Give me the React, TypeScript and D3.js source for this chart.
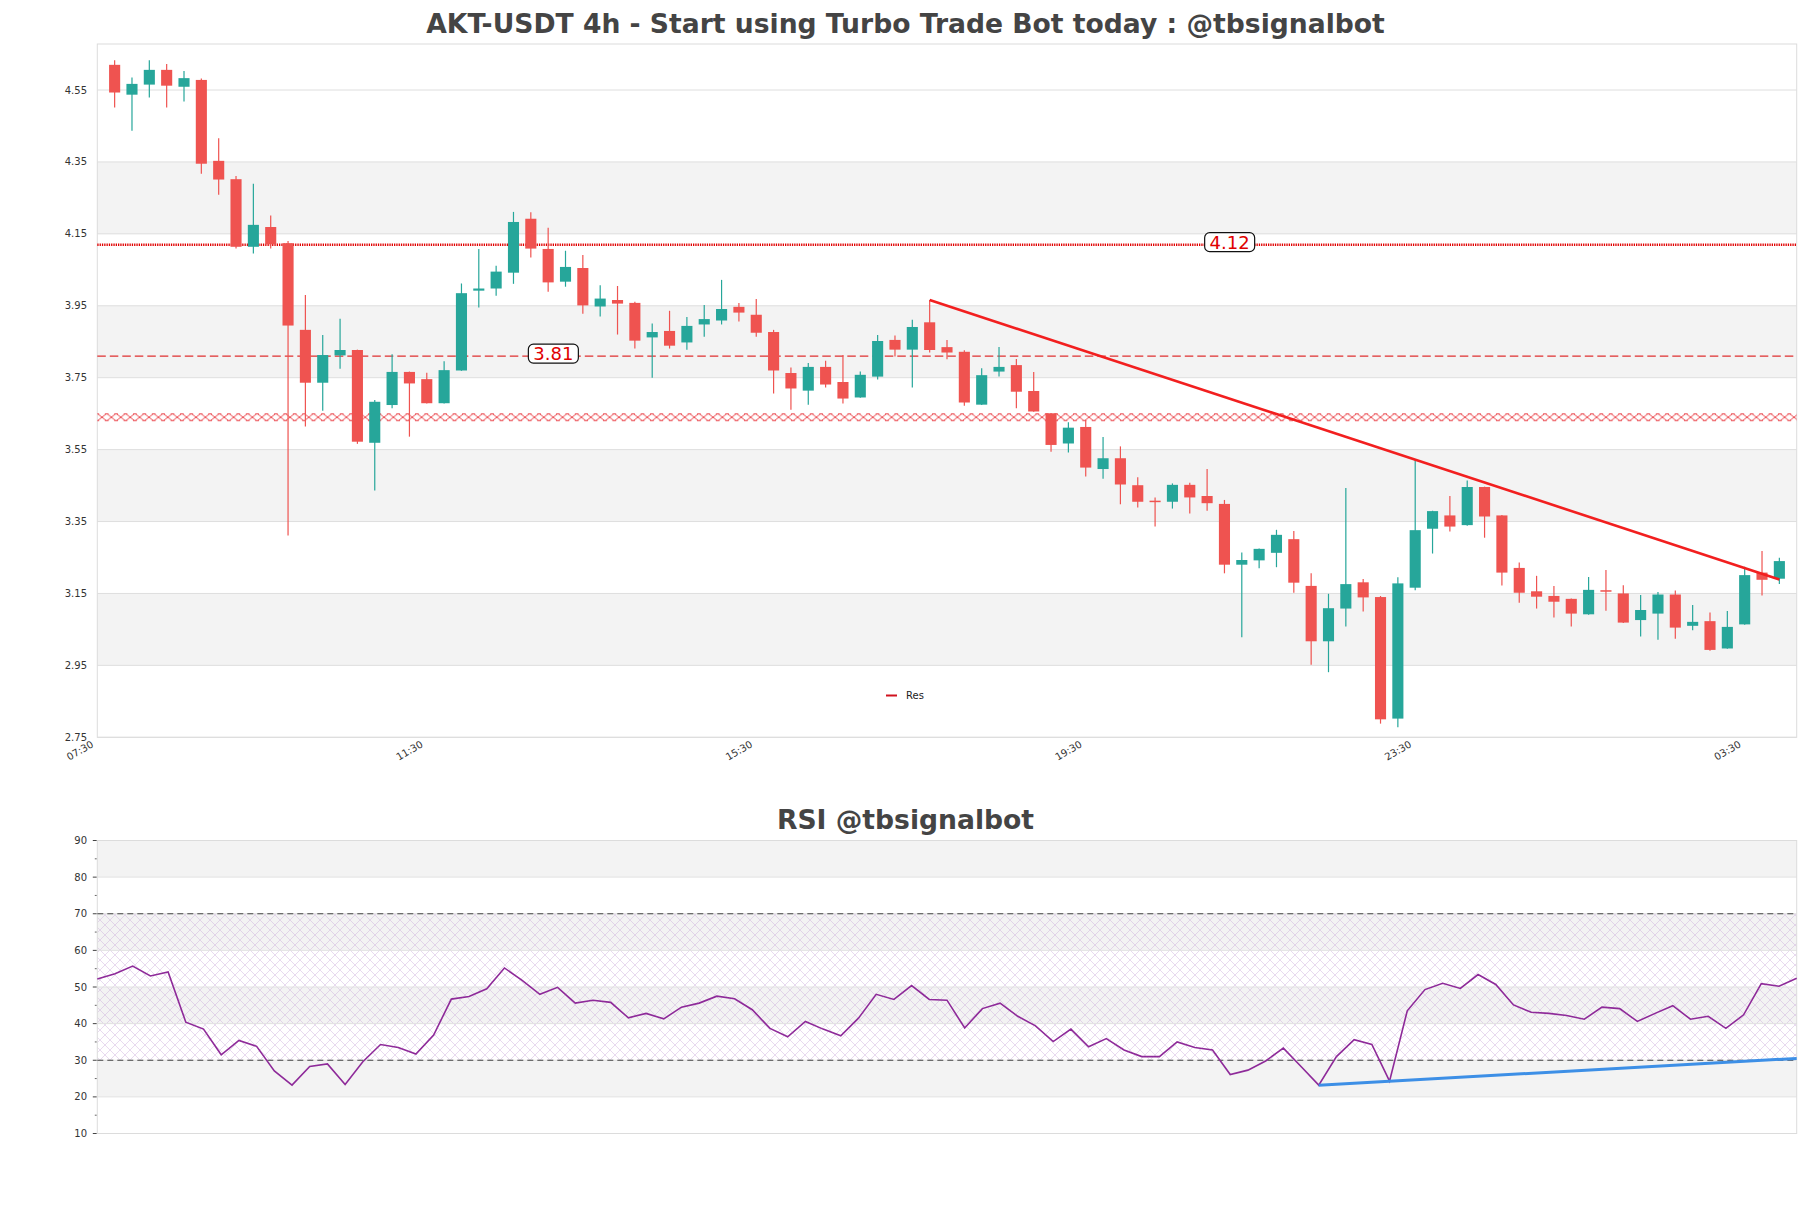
import * as d3 from 'd3';
import React from 'react';

// candle data
const opens = [4.620, 4.537, 4.565, 4.606, 4.559, 4.578, 4.353, 4.302, 4.114, 4.169, 4.124, 3.883, 3.736, 3.812, 3.827, 3.569, 3.674, 3.766, 3.746, 3.679, 3.770, 3.992, 3.998, 4.042, 4.192, 4.108, 4.017, 4.055, 3.948, 3.966, 3.958, 3.862, 3.880, 3.848, 3.898, 3.909, 3.947, 3.925, 3.877, 3.763, 3.714, 3.780, 3.738, 3.695, 3.753, 3.855, 3.828, 3.904, 3.835, 3.822, 3.675, 3.767, 3.785, 3.713, 3.651, 3.567, 3.613, 3.496, 3.526, 3.451, 3.408, 3.405, 3.452, 3.421, 3.399, 3.230, 3.242, 3.263, 3.301, 3.171, 3.017, 3.108, 3.181, 3.140, 2.802, 3.166, 3.330, 3.367, 3.340, 3.446, 3.367, 3.221, 3.156, 3.143, 3.135, 3.092, 3.159, 3.150, 3.076, 3.094, 3.147, 3.060, 3.073, 2.997, 3.064, 3.208, 3.191];
const highs = [4.633, 4.585, 4.633, 4.622, 4.603, 4.582, 4.416, 4.311, 4.289, 4.201, 4.130, 3.980, 3.869, 3.914, 3.828, 3.688, 3.815, 3.767, 3.764, 3.796, 4.012, 4.108, 4.061, 4.211, 4.210, 4.167, 4.103, 4.091, 4.007, 4.005, 3.961, 3.901, 3.936, 3.919, 3.952, 4.022, 3.958, 3.969, 3.883, 3.778, 3.791, 3.797, 3.813, 3.767, 3.869, 3.867, 3.911, 3.966, 3.855, 3.826, 3.776, 3.835, 3.802, 3.766, 3.652, 3.626, 3.632, 3.585, 3.559, 3.473, 3.417, 3.456, 3.458, 3.496, 3.410, 3.264, 3.275, 3.327, 3.324, 3.206, 3.149, 3.443, 3.190, 3.143, 3.195, 3.521, 3.380, 3.421, 3.464, 3.447, 3.368, 3.236, 3.199, 3.171, 3.136, 3.196, 3.215, 3.173, 3.146, 3.154, 3.158, 3.118, 3.097, 3.101, 3.224, 3.268, 3.249];
const lows = [4.501, 4.437, 4.529, 4.501, 4.518, 4.317, 4.259, 4.109, 4.095, 4.109, 3.311, 3.614, 3.658, 3.775, 3.566, 3.436, 3.665, 3.586, 3.678, 3.678, 3.769, 3.945, 3.978, 4.011, 4.084, 3.989, 4.003, 3.928, 3.920, 3.870, 3.831, 3.750, 3.831, 3.828, 3.864, 3.898, 3.906, 3.864, 3.706, 3.661, 3.675, 3.723, 3.678, 3.694, 3.745, 3.809, 3.723, 3.820, 3.801, 3.672, 3.674, 3.753, 3.665, 3.655, 3.544, 3.542, 3.475, 3.469, 3.398, 3.389, 3.336, 3.386, 3.372, 3.380, 3.206, 3.028, 3.220, 3.223, 3.152, 2.952, 2.931, 3.058, 3.100, 2.788, 2.778, 3.159, 3.261, 3.322, 3.338, 3.305, 3.172, 3.124, 3.108, 3.083, 3.058, 3.091, 3.102, 3.068, 3.030, 3.021, 3.024, 3.048, 2.991, 2.996, 3.063, 3.144, 3.176];
const closes = [4.543, 4.567, 4.606, 4.562, 4.583, 4.345, 4.301, 4.114, 4.175, 4.121, 3.895, 3.736, 3.813, 3.827, 3.572, 3.683, 3.766, 3.734, 3.679, 3.771, 3.985, 3.998, 4.045, 4.183, 4.109, 4.015, 4.058, 3.951, 3.970, 3.956, 3.853, 3.877, 3.839, 3.894, 3.913, 3.941, 3.931, 3.875, 3.770, 3.720, 3.780, 3.731, 3.692, 3.758, 3.852, 3.828, 3.891, 3.827, 3.820, 3.681, 3.757, 3.780, 3.711, 3.656, 3.563, 3.611, 3.500, 3.526, 3.453, 3.405, 3.406, 3.452, 3.417, 3.401, 3.230, 3.243, 3.274, 3.313, 3.180, 3.017, 3.109, 3.176, 3.139, 2.800, 3.178, 3.326, 3.379, 3.336, 3.446, 3.364, 3.208, 3.152, 3.141, 3.127, 3.094, 3.160, 3.155, 3.069, 3.104, 3.147, 3.055, 3.071, 2.993, 3.057, 3.201, 3.188, 3.240];

const rsi = [
  52.2, 53.6, 55.7, 53.0, 54.1, 40.4, 38.5, 31.5, 35.4, 33.8,
  27.1, 23.2, 28.3, 29.0, 23.4, 29.6, 34.3, 33.5, 31.7, 36.9,
  46.7, 47.4, 49.5, 55.2, 51.8, 48.0, 49.9, 45.6, 46.4, 45.8,
  41.6, 42.8, 41.3, 44.5, 45.6, 47.5, 46.8, 43.8, 38.7, 36.4,
  40.6, 38.5, 36.7, 41.5, 48.0, 46.6, 50.4, 46.6, 46.4, 38.8,
  44.1, 45.6, 42.0, 39.4, 35.1, 38.5, 33.7, 35.9, 32.8, 31.0,
  31.0, 35.0, 33.5, 32.8, 26.1, 27.3, 29.8, 33.3, 28.3, 23.2,
  31.0, 35.6, 34.3, 24.3, 43.5, 49.3, 51.0, 49.6, 53.4, 50.7,
  45.1, 43.1, 42.8, 42.2, 41.2, 44.5, 44.1, 40.6, 42.8, 44.9,
  41.2, 42.0, 38.7, 42.4, 50.9, 50.2, 52.4,
];

// x ticks (candle index of each label)
const xTickIdx = [-1, 18, 37, 56, 75, 94];
const xTickLabels = ['07:30', '11:30', '15:30', '19:30', '23:30', '03:30'];
const priceTicks = [2.75, 2.95, 3.15, 3.35, 3.55, 3.75, 3.95, 4.15, 4.35, 4.55];
const rsiTicks = [10, 20, 30, 40, 50, 60, 70, 80, 90];

// levels
const dottedLevel = 4.12;
const dashedLevel = 3.81;
const hatchLevel = 3.64;
const levelLabels = [
  { idx: 25.3, value: 3.81 },
  { idx: 64.3, value: 4.12 },
];
// trend lines [idx, value]
const resLine = [[47, 3.966], [96, 3.189]];
const rsiSupport = [[69, 23.2], [96, 30.5]];

const W = 1811;
const H = 1208;
const left = 97.3;
const right = 1796.7;
const FONT = 'DejaVu Sans, sans-serif';

export default function App() {
  const candles = opens.map((o, i) => ({ i, o, h: highs[i], l: lows[i], c: closes[i] }));

  const x = d3.scaleLinear().domain([-1, 97]).range([left, right]);
  const y = d3.scaleLinear().domain([2.75, 4.55]).range([737.3, 90]);
  const mainTop = 44;
  const mainBottom = 737.3;

  const xr = d3.scaleLinear().domain([0, rsi.length - 1]).range([left, right]);
  const yr = d3.scaleLinear().domain([10, 90]).range([1133.5, 840.5]);

  const bw = (x(1) - x(0)) * 0.64;
  const up = '#26a69a';
  const down = '#ef5350';

  const rsiPath = d3.line<number>().x((d, i) => xr(i)).y(d => yr(d))(rsi) || '';

  // gray bands
  const bands = [[4.15, 4.35], [3.75, 3.95], [3.35, 3.55], [2.95, 3.15]];
  const rsiBands = [[80, 90], [60, 70], [40, 50], [20, 30]];
  const rsiMinor = d3.range(15, 90, 10);

  return (
    <svg width={W} height={H} style={{ position: 'absolute', left: 0, top: 0, background: '#fff' }} fontFamily={FONT}>
      <defs>
        <pattern id="xhatch" width={9.4} height={8} patternUnits="userSpaceOnUse" x={left} y={y(hatchLevel) - 4}>
          <path d="M0.6,0.7 L8.8,7.3 M0.6,7.3 L8.8,0.7 M0,0.7 H1.8 M7.6,0.7 H9.4 M0,7.3 H1.8 M7.6,7.3 H9.4" stroke="#e8343a" strokeWidth={0.9} fill="none" />
        </pattern>
        <pattern id="rsihatch" width={10} height={10} patternUnits="userSpaceOnUse">
          <path d="M0,0 L10,10 M10,0 L0,10" stroke="#c8a8d8" strokeWidth={0.6} opacity={0.7} />
        </pattern>
      </defs>

      {/* title */}
      <text x={W / 2} y={33} textAnchor="middle" fontSize={26.6} fontWeight="bold" fill="#444">
        AKT-USDT 4h - Start using Turbo Trade Bot today : @tbsignalbot
      </text>

      {/* main panel background */}
      {bands.map(([a, b], k) => (
        <rect key={k} x={left} width={right - left} y={y(b)} height={y(a) - y(b)} fill="#f3f3f3" />
      ))}
      {priceTicks.map(t => (
        <g key={t}>
          <line x1={left} x2={right} y1={y(t)} y2={y(t)} stroke="#dedede" strokeWidth={1} />
          <text x={87} y={y(t)} dy="0.35em" textAnchor="end" fontSize={10} fill="#333">{t.toFixed(2)}</text>
        </g>
      ))}
      <rect x={left} y={mainTop} width={right - left} height={mainBottom - mainTop} fill="none" stroke="#dcdcdc" />

      {/* x ticks */}
      {xTickIdx.map((t, k) => (
        <text key={k} transform={`translate(${x(t) - 3},${mainBottom + 9}) rotate(-30)`} textAnchor="end" fontSize={10} fill="#333">
          {xTickLabels[k]}
        </text>
      ))}

      {/* levels */}
      <line x1={left} x2={right} y1={y(dottedLevel)} y2={y(dottedLevel)} stroke="#e00000" strokeWidth={2.5} strokeDasharray="1.3 1" />
      <line x1={left} x2={right} y1={y(dashedLevel)} y2={y(dashedLevel)} stroke="#e03030" strokeWidth={1.4} strokeDasharray="8.5 4" />
      <rect x={left} width={right - left} y={y(hatchLevel) - 4} height={8} fill="url(#xhatch)" />

      {/* candles */}
      {candles.map(d => {
        const col = d.c >= d.o ? up : down;
        const top = y(Math.max(d.o, d.c));
        const bot = y(Math.min(d.o, d.c));
        return (
          <g key={d.i}>
            <line x1={x(d.i)} x2={x(d.i)} y1={y(d.h)} y2={y(d.l)} stroke={col} strokeWidth={1.2} />
            <rect x={x(d.i) - bw / 2} width={bw} y={top} height={Math.max(1.5, bot - top)} fill={col} />
          </g>
        );
      })}

      {/* resistance trend line */}
      <line x1={x(resLine[0][0])} y1={y(resLine[0][1])} x2={x(resLine[1][0])} y2={y(resLine[1][1])} stroke="#f21f1f" strokeWidth={2.6} />

      {/* level labels */}
      {levelLabels.map((l, k) => (
        <g key={k} transform={`translate(${x(l.idx)},${y(l.value) - 2.5})`}>
          <rect x={-25} y={-9.5} width={50} height={19} rx={5} fill="#fff" stroke="#111" strokeWidth={1.2} />
          <text textAnchor="middle" dy="0.36em" fontSize={18} fill="#e00000">{l.value.toFixed(2)}</text>
        </g>
      ))}

      {/* legend */}
      <line x1={886} x2={897} y1={695.5} y2={695.5} stroke="#d0121e" strokeWidth={2} />
      <text x={906} y={699} fontSize={10} fill="#222">Res</text>

      {/* RSI panel */}
      <text x={W / 2} y={829} textAnchor="middle" fontSize={26.6} fontWeight="bold" fill="#444">RSI @tbsignalbot</text>
      {rsiBands.map(([a, b], k) => (
        <rect key={k} x={left} width={right - left} y={yr(b)} height={yr(a) - yr(b)} fill="#f3f3f3" />
      ))}
      <rect x={left} width={right - left} y={yr(70)} height={yr(30) - yr(70)} fill="url(#rsihatch)" />
      {rsiTicks.map(t => (
        <g key={t}>
          <line x1={left} x2={right} y1={yr(t)} y2={yr(t)} stroke="#e2e2e2" strokeWidth={1} />
          <line x1={left - 4.5} x2={left - 0.5} y1={yr(t)} y2={yr(t)} stroke="#444" strokeWidth={1} />
          <text x={87} y={yr(t)} dy="0.35em" textAnchor="end" fontSize={10} fill="#333">{t}</text>
        </g>
      ))}
      {rsiMinor.map(t => (
        <line key={t} x1={left - 2.5} x2={left - 0.5} y1={yr(t)} y2={yr(t)} stroke="#666" strokeWidth={1} />
      ))}
      <rect x={left} y={yr(90)} width={right - left} height={yr(10) - yr(90)} fill="none" stroke="#dcdcdc" />
      <line x1={left} x2={right} y1={yr(70)} y2={yr(70)} stroke="#444" strokeWidth={1.2} strokeDasharray="6 4" />
      <line x1={left} x2={right} y1={yr(30)} y2={yr(30)} stroke="#444" strokeWidth={1.2} strokeDasharray="6 4" />
      <path d={rsiPath} fill="none" stroke="#8e2a99" strokeWidth={1.6} />
      <line x1={xr(rsiSupport[0][0])} y1={yr(rsiSupport[0][1])} x2={xr(rsiSupport[1][0])} y2={yr(rsiSupport[1][1])} stroke="#3d8fe6" strokeWidth={3} />
    </svg>
  );
}
